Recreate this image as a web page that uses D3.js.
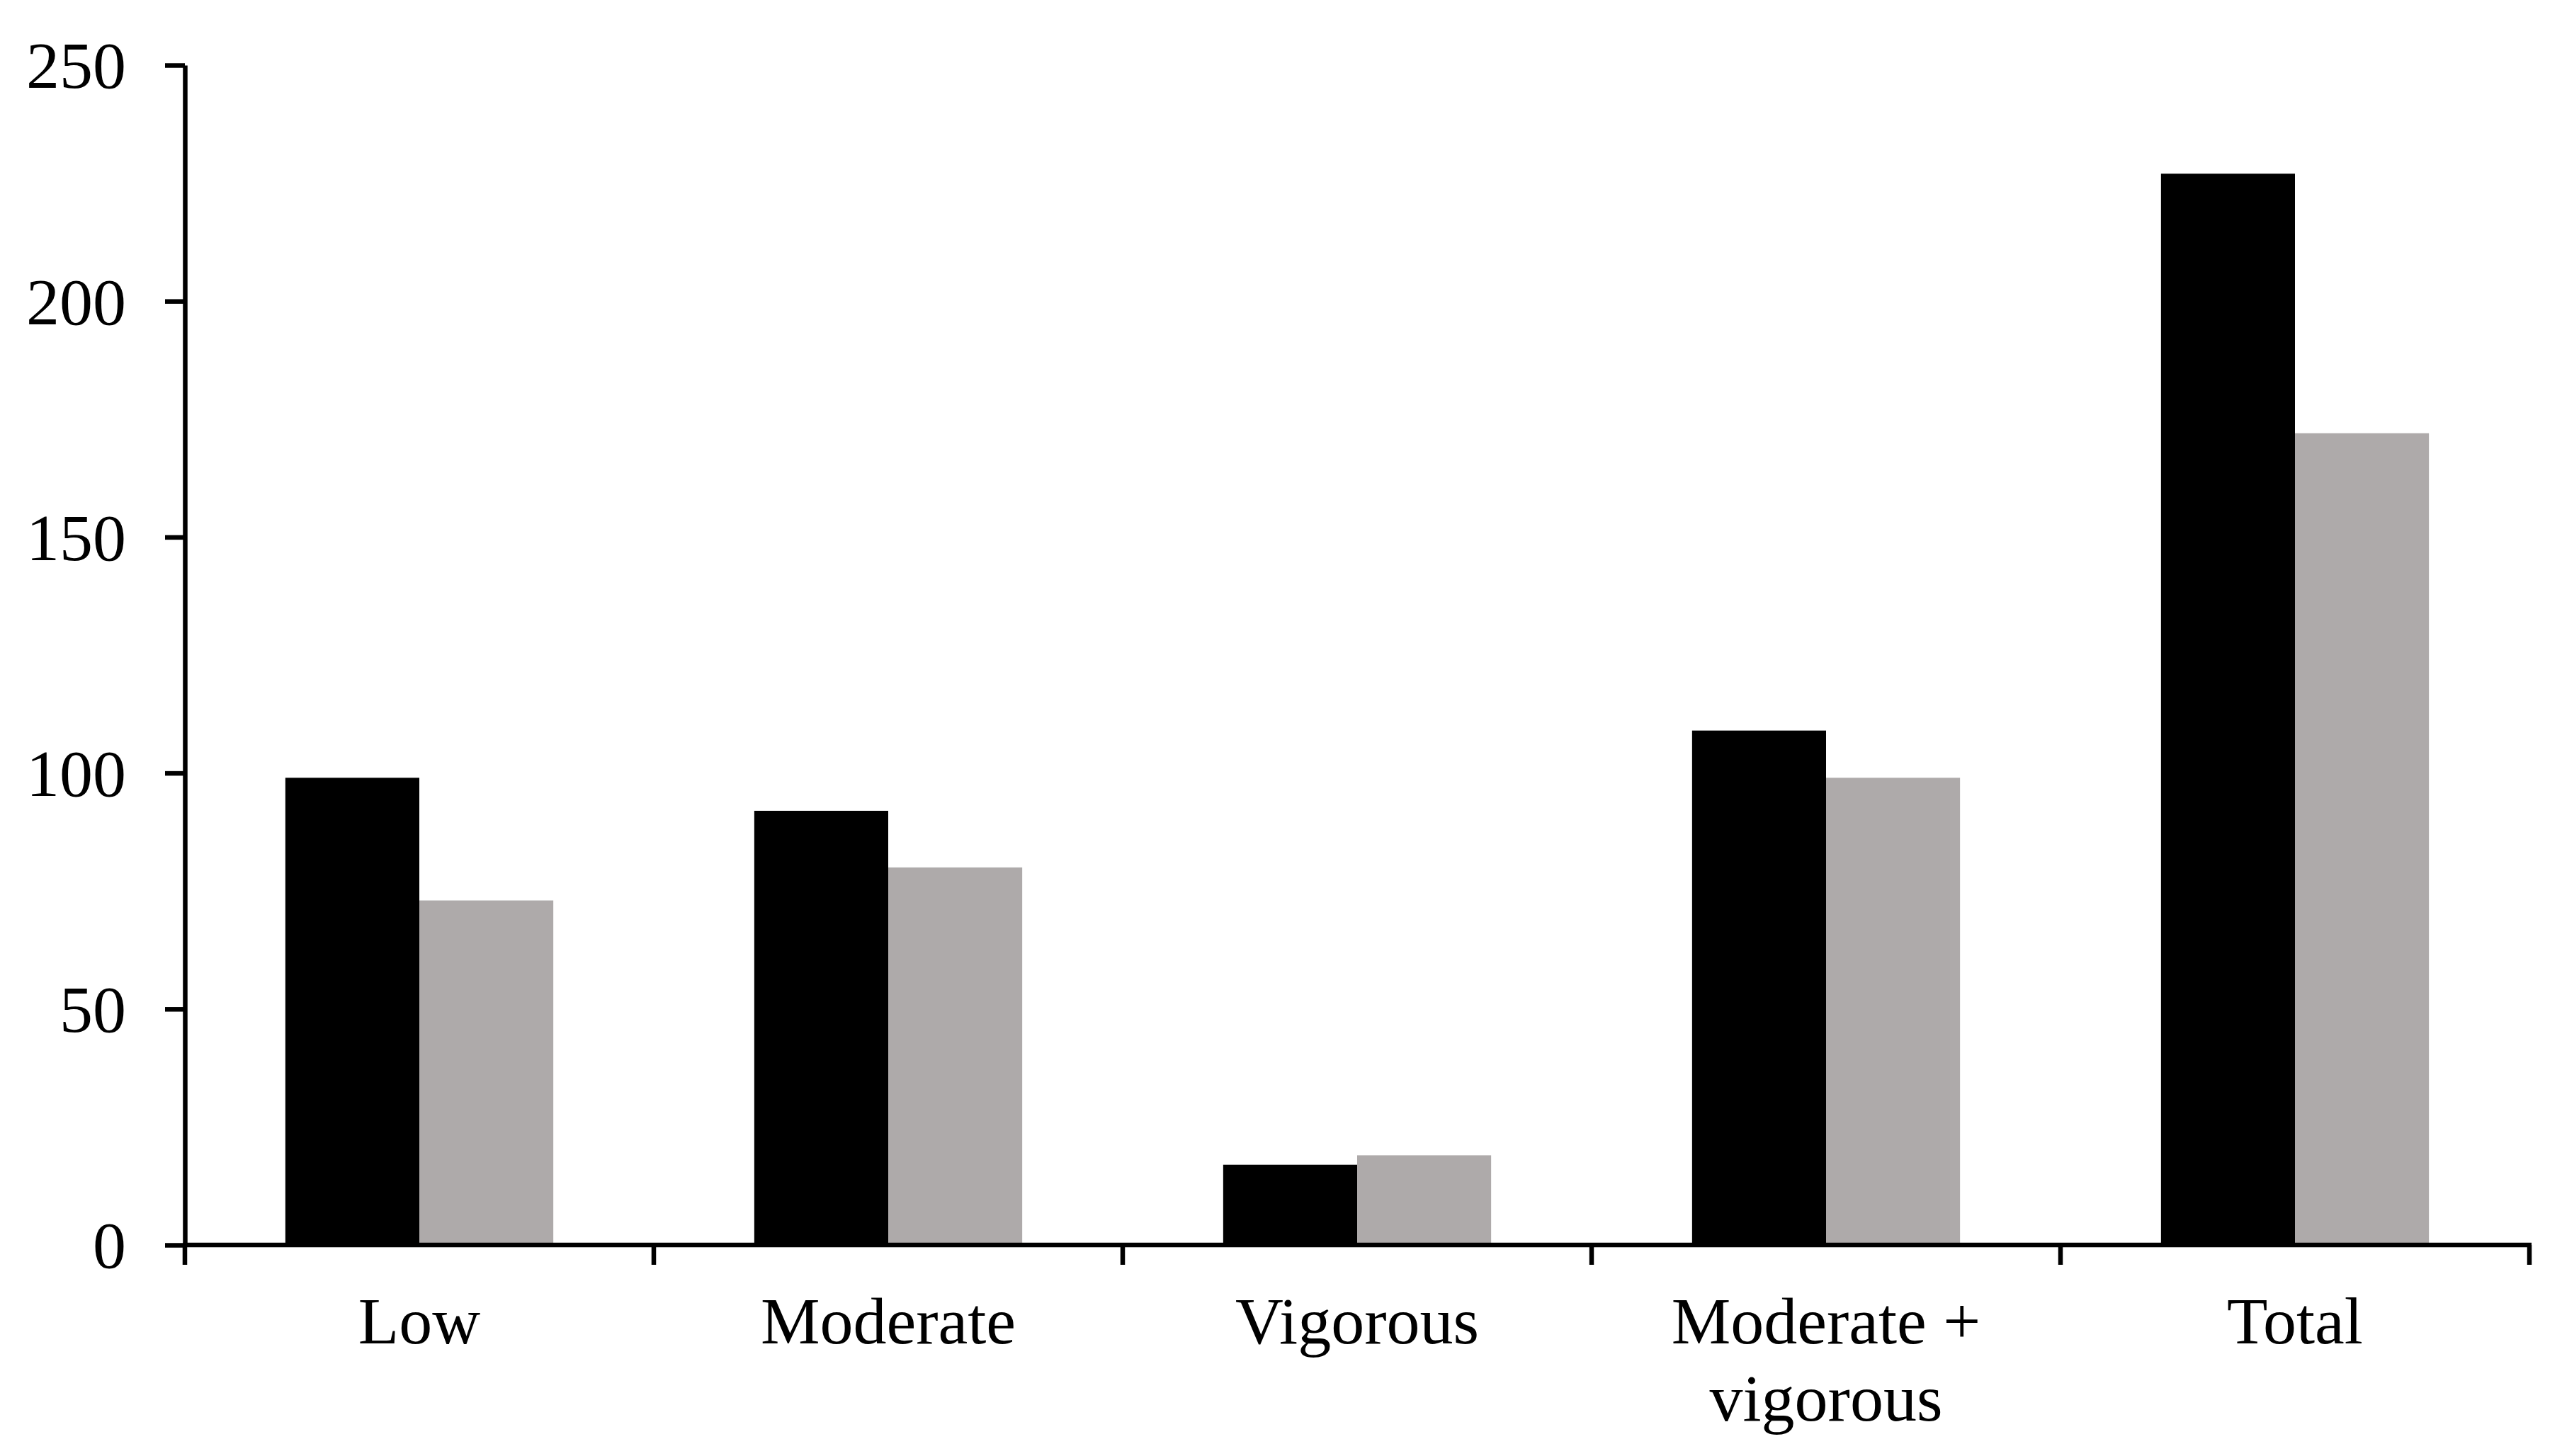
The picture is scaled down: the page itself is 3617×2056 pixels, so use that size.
<!DOCTYPE html>
<html>
<head>
<meta charset="utf-8">
<script src="https://cdn.jsdelivr.net/npm/d3@7"></script>
<style>
  body { margin: 0; background: #fff; }
  svg { display: block; }
</style>
</head>
<body>
<svg id="chart"></svg>
<script>
// values
const categories = ['Low', 'Moderate', 'Vigorous', 'Moderate + vigorous', 'Total'];
const labelLines = [['Low'], ['Moderate'], ['Vigorous'], ['Moderate +', 'vigorous'], ['Total']];
const seriesNames = ['A', 'B'];
const seriesA = [99, 92, 17, 109, 227];
const seriesB = [73, 80, 19, 99, 172];
const yTicks = [0, 50, 100, 150, 200, 250];

const width = 3617;
const height = 2056;
const marginTop = 92;
const marginBottom = 298;
const marginLeft = 261;
const marginRight = 46;
const fontFamily = '"Times New Roman", "Liberation Serif", serif';
const fontSize = 94;
const colors = { A: '#000000', B: '#aeaaaa' };

const svg = d3.select('#chart')
  .attr('width', width)
  .attr('height', height);

svg.selectAll('*').remove();

const x0 = d3.scaleBand()
  .domain(categories)
  .range([marginLeft, width - marginRight])
  .padding(0);

// excel-ish gap width 150%
const x1 = d3.scaleBand()
  .domain(seriesNames)
  .range([0, x0.bandwidth()])
  .paddingInner(0)
  .paddingOuter(0.75);

const y = d3.scaleLinear()
  .domain([0, 250])
  .range([height - marginBottom, marginTop]);

const rows = categories.map((c, i) => ({ cat: c, A: seriesA[i], B: seriesB[i] }));

// bars
const group = svg.append('g')
  .selectAll('g')
  .data(rows)
  .enter().append('g')
  .attr('transform', d => `translate(${x0(d.cat)},0)`);

group.selectAll('rect')
  .data(d => seriesNames.map(s => ({ s: s, v: d[s] })))
  .enter().append('rect')
  .attr('x', d => x1(d.s))
  .attr('width', x1.bandwidth())
  .attr('y', d => y(d.v))
  .attr('height', d => y(0) - y(d.v))
  .attr('fill', d => colors[d.s]);

// y axis
const yAxis = svg.append('g')
  .attr('transform', `translate(${marginLeft},0)`)
  .call(d3.axisLeft(y).tickValues(yTicks).tickSize(28).tickSizeOuter(0).tickPadding(55));

yAxis.select('.domain').attr('stroke', '#000').attr('stroke-width', 6.5);
yAxis.selectAll('.tick line').attr('stroke', '#000').attr('stroke-width', 6.5);
yAxis.selectAll('.tick text')
  .attr('font-family', fontFamily)
  .attr('font-size', fontSize)
  .attr('fill', '#000')
  .attr('dy', '0.34em');

// x axis line + ticks at band edges
const xAxisY = y(0);
svg.append('line')
  .attr('x1', marginLeft - 3)
  .attr('x2', width - marginRight + 3)
  .attr('y1', xAxisY)
  .attr('y2', xAxisY)
  .attr('stroke', '#000')
  .attr('stroke-width', 6.5);

const edges = categories.map(c => x0(c)).concat([x0.range()[1]]);
svg.append('g')
  .selectAll('line')
  .data(edges)
  .enter().append('line')
  .attr('x1', d => d)
  .attr('x2', d => d)
  .attr('y1', xAxisY)
  .attr('y2', xAxisY + 28)
  .attr('stroke', '#000')
  .attr('stroke-width', 6.5);

// category labels
const labels = svg.append('g')
  .selectAll('text')
  .data(categories)
  .enter().append('text')
  .attr('x', d => x0(d) + x0.bandwidth() / 2)
  .attr('y', xAxisY + 139)
  .attr('text-anchor', 'middle')
  .attr('font-family', fontFamily)
  .attr('font-size', fontSize)
  .attr('fill', '#000');

labels.selectAll('tspan')
  .data((d, i) => labelLines[i].map(t => ({ t: t, x: x0(d) + x0.bandwidth() / 2 })))
  .enter().append('tspan')
  .attr('x', d => d.x)
  .attr('dy', (d, i) => i === 0 ? 0 : 109)
  .text(d => d.t);
</script>
</body>
</html>
